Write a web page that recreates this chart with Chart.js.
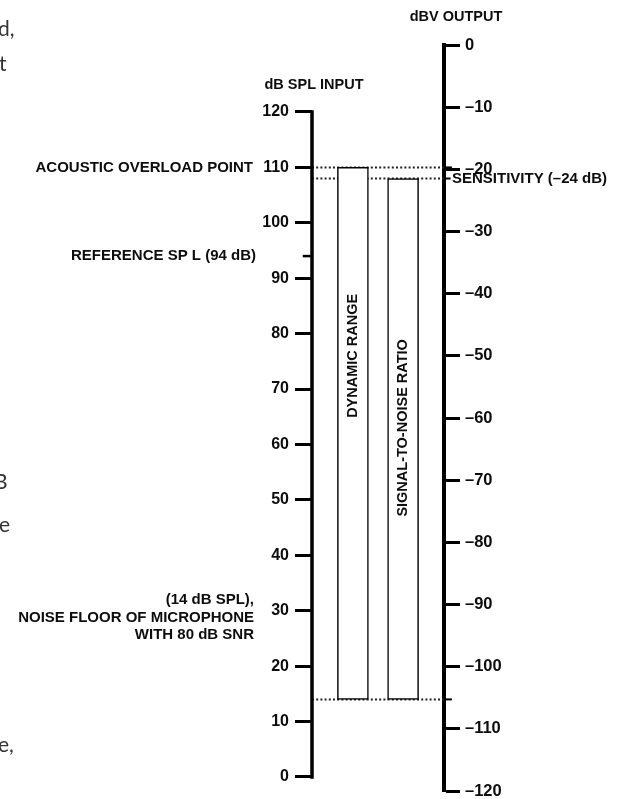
<!DOCTYPE html>
<html>
<head>
<meta charset="utf-8">
<script src="https://cdn.jsdelivr.net/npm/chart.js@4.4.1/dist/chart.umd.min.js"></script>
<style>
  html, body { margin: 0; padding: 0; background: #fff; }
  #wrap { position: relative; width: 618px; height: 799px; }
</style>
</head>
<body>
<div id="wrap"><canvas id="myChart"></canvas></div>
<script>
// scale ticks
const splTicks = [0, 10, 20, 30, 40, 50, 60, 70, 80, 90, 100, 110, 120];
const dbvTicks = [0, -10, -20, -30, -40, -50, -60, -70, -80, -90, -100, -110, -120];

// levels (dB SPL on the input axis)
const overloadSpl = 110;
const sensitivitySpl = 108;   // level where the figure draws the sensitivity line
const referenceSpl = 94;
const noiseFloorSpl = 14;
const sensitivityDbv = -24;
const snrDb = 80;

// the two range bars
const rangeNames = ["DYNAMIC RANGE", "SIGNAL-TO-NOISE RATIO"];
const rangeTops = [overloadSpl, sensitivitySpl];
const rangeBottoms = [noiseFloorSpl, noiseFloorSpl];

const font = '"Liberation Sans", Arial, sans-serif';
const ink = "#0d0d0d";

// bar centres across the space between the two axes (0 = input axis, 1 = output axis)
const barX = [0.31, 0.69];

function segment(x0, x1, y0, y1, width, extra) {
  return Object.assign({
    type: "line",
    data: [{ x: x0, y: y0 }, { x: x1, y: y1 }],
    borderColor: "#000",
    borderWidth: width,
    pointRadius: 0,
    clip: false,
    yAxisID: "y",
    order: 1,
  }, extra || {});
}

const dotted = { borderDash: [2, 2.2], borderColor: "#222", order: 3 };

// keep the tick labels from shrinking the plot area
function fixScale(width) {
  return (s) => {
    s.width = width;
    s.paddingTop = 0;
    s.paddingBottom = 0;
  };
}

const figureText = {
  id: "figureText",
  afterDraw(chart) {
    const { ctx, scales } = chart;
    const x = scales.x, y = scales.y, y2 = scales.y2;
    const ax = x.getPixelForValue(0);
    const bx = x.getPixelForValue(1);
    ctx.save();
    ctx.fillStyle = ink;
    ctx.textBaseline = "middle";

    // axis titles
    ctx.font = "bold 14.5px " + font;
    ctx.textAlign = "center";
    ctx.fillText("dB SPL INPUT", ax + 2, y.getPixelForValue(120) - 27);
    ctx.fillText("dBV OUTPUT", bx + 12, y2.getPixelForValue(0) - 28);

    // left annotations
    ctx.font = "bold 15px " + font;
    ctx.textAlign = "right";
    ctx.fillText("ACOUSTIC OVERLOAD POINT", ax - 59, y.getPixelForValue(overloadSpl));
    ctx.fillText("REFERENCE SP L (" + referenceSpl + " dB)", ax - 56, y.getPixelForValue(referenceSpl));
    const ny = y.getPixelForValue(30);
    ctx.fillText("(" + noiseFloorSpl + " dB SPL),", ax - 58, ny - 11);
    ctx.fillText("NOISE FLOOR OF MICROPHONE", ax - 58, ny + 7);
    ctx.fillText("WITH " + snrDb + " dB SNR", ax - 58, ny + 24);

    // sensitivity on the output axis
    ctx.textAlign = "left";
    ctx.fillText("SENSITIVITY (\u2013" + Math.abs(sensitivityDbv) + " dB)", bx + 8, y.getPixelForValue(sensitivitySpl));

    // vertical labels inside the bars
    ctx.font = "bold 14.5px " + font;
    ctx.textAlign = "center";
    const labelLevels = [76, 63];
    rangeNames.forEach((name, i) => {
      ctx.save();
      ctx.translate(x.getPixelForValue(barX[i]), y.getPixelForValue(labelLevels[i]));
      ctx.rotate(-Math.PI / 2);
      ctx.fillText(name, 0, 0);
      ctx.restore();
    });

    // cut-off text from the surrounding page
    ctx.fillStyle = "#333";
    ctx.font = "21px Lato, sans-serif";
    ctx.textAlign = "left";
    ctx.textBaseline = "alphabetic";
    ctx.fillText("d,", -2, 36);
    ctx.fillText("t", -1, 71);
    ctx.fillText("B", -6, 489);
    ctx.fillText("e", -1, 532);
    ctx.fillText("e,", -2, 752);
    ctx.restore();
  }
};

const ctx = document.getElementById("myChart").getContext("2d");
const myChart = new Chart(ctx, {
  type: "bar",
  data: {
    datasets: [
      {
        type: "bar",
        data: barX.map((bx, i) => ({ x: bx, y: [rangeBottoms[i], rangeTops[i]] })),
        backgroundColor: "#fff",
        borderColor: "#000",
        borderWidth: 1.5,
        borderSkipped: false,
        barThickness: 31,
        grouped: false,
        yAxisID: "y",
        order: 2,
      },
      // dotted level lines between the axes
      segment(0, 1, overloadSpl, overloadSpl, 2, dotted),
      segment(0, 1, sensitivitySpl, sensitivitySpl, 2, dotted),
      segment(0, 1, noiseFloorSpl, noiseFloorSpl, 2, dotted),
      // input axis line
      segment(0, 0, 0, 120, 3.5, { borderCapStyle: "square" }),
      // minor tick for the reference SPL
      segment(-0.07, 0, referenceSpl, referenceSpl, 2.5),
      // short marks on the output axis
      segment(1, 1.06, overloadSpl, overloadSpl, 2),
      segment(1, 1.05, sensitivitySpl, sensitivitySpl, 2),
      segment(1, 1.06, noiseFloorSpl, noiseFloorSpl, 2),
    ],
  },
  options: {
    responsive: true,
    maintainAspectRatio: false,
    animation: false,
    layout: { padding: { left: 252, right: 0, top: 45, bottom: 8 } },
    plugins: { legend: { display: false }, tooltip: { enabled: false } },
    scales: {
      x: { type: "linear", display: false, offset: false, min: 0, max: 1 },
      y: {
        position: "left",
        min: -2.53,
        max: 132.09,
        afterBuildTicks: (s) => { s.ticks = splTicks.map((v) => ({ value: v })); },
        afterFit: fixScale(60),
        ticks: {
          autoSkip: false,
          padding: 6,
          color: ink,
          font: { family: font, size: 16, weight: "bold", lineHeight: 1 },
        },
        grid: { drawOnChartArea: false, drawTicks: true, tickLength: 17, tickWidth: 3, tickColor: "#000" },
        border: { display: false },
      },
      y2: {
        position: "right",
        min: -120,
        max: 0,
        afterBuildTicks: (s) => { s.ticks = dbvTicks.map((v) => ({ value: v })); },
        afterFit: fixScale(174),
        ticks: {
          autoSkip: false,
          padding: 5,
          color: ink,
          font: { family: font, size: 16.5, weight: "bold", lineHeight: 1 },
          callback: (v) => (v < 0 ? "\u2013" + Math.abs(v) : String(v)),
        },
        grid: { drawOnChartArea: false, drawTicks: true, tickLength: 16, tickWidth: 3, tickColor: "#000" },
        border: { display: true, width: 4, color: "#000" },
      },
    },
  },
  plugins: [figureText],
});
</script>
</body>
</html>
